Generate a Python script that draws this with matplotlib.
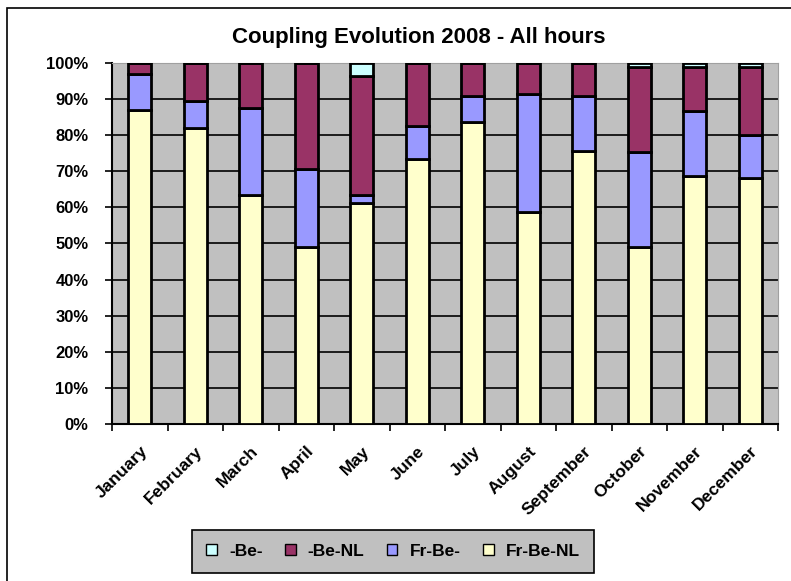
import numpy as np
import matplotlib.pyplot as plt
from matplotlib.patches import Rectangle

plt.rcParams['font.family'] = ['Liberation Sans', 'DejaVu Sans']

months = ["January", "February", "March", "April", "May", "June",
          "July", "August", "September", "October", "November", "December"]

# shares per month in %, stacked bottom to top
fr_be_nl = [87.0, 82.0, 63.5, 49.0, 61.2, 73.5, 83.6, 58.8, 75.6, 49.0, 68.8, 68.2]
fr_be = [10.0, 7.5, 24.0, 21.5, 2.3, 9.0, 7.3, 32.6, 15.3, 26.3, 17.9, 11.8]
be_nl = [3.0, 10.5, 12.5, 29.5, 33.0, 17.5, 9.1, 8.6, 9.1, 23.5, 12.1, 18.8]
be = [0.0, 0.0, 0.0, 0.0, 3.5, 0.0, 0.0, 0.0, 0.0, 1.2, 1.2, 1.2]

series = [("Fr-Be-NL", fr_be_nl, "#FFFFCC"),
          ("Fr-Be-", fr_be, "#9999FF"),
          ("-Be-NL", be_nl, "#993366"),
          ("-Be-", be, "#CCFFFF")]

fig = plt.figure(figsize=(7.91, 5.81), dpi=100)
ax = fig.add_axes([0.1416, 0.2702, 0.842, 0.6214])
ax.set_facecolor("#C0C0C0")

x = np.arange(len(months))
bottom = np.zeros(len(months))
handles = []
for name, vals, col in series:
    vals = np.array(vals)
    b = ax.bar(x, vals, 0.41, bottom=bottom, color=col, edgecolor="black",
               linewidth=2.0, label=name, zorder=3)
    bottom += vals
    handles.append(b)

ax.set_xlim(-0.5, len(months) - 0.5)
ax.set_ylim(0, 100)
ax.set_yticks(np.arange(0, 101, 10))
ax.set_yticklabels([f"{v}%" for v in range(0, 101, 10)], fontsize=12, fontweight="bold")
ax.yaxis.grid(True, color="black", linewidth=1.2, zorder=1)
ax.set_axisbelow(True)
ax.tick_params(axis="y", length=5, width=1.2, pad=12)

# month names at centres, tick marks between categories
ax.set_xticks(x)
ax.set_xticklabels(months, rotation=45, ha="right", rotation_mode="anchor",
                   fontsize=12.5, fontweight="bold")
ax.tick_params(axis="x", which="major", length=0, pad=14)
ax.set_xticks(np.arange(-0.5, len(months), 1), minor=True)
ax.tick_params(axis="x", which="minor", length=5, width=1.2)

for side in ["left", "bottom"]:
    ax.spines[side].set_linewidth(1.5)
for side in ["top", "right"]:
    ax.spines[side].set_color("#A0A0A0")

fig.text(0.53, 0.936, "Coupling Evolution 2008 - All hours", ha="center", va="center",
         fontsize=16, fontweight="bold")

leg = fig.legend(handles[::-1], [s[0] for s in series][::-1], loc="center",
                 bbox_to_anchor=(0.497, 0.0508), ncol=4, frameon=True, fancybox=False,
                 facecolor="#C0C0C0", edgecolor="black", handlelength=0.6, handleheight=0.6,
                 columnspacing=1.3, handletextpad=0.7, borderpad=0.8,
                 prop={"size": 12.5, "weight": "bold"})
leg.get_frame().set_linewidth(1.2)
leg.get_frame().set_alpha(1)
for h in leg.legend_handles:
    h.set_linewidth(1.0)

# outer chart frame
fig.patches.append(Rectangle((7 / 791, -0.05), 1.0, 1 - 8 / 581 + 0.05,
                             transform=fig.transFigure, fill=False,
                             edgecolor="black", linewidth=1.2))

fig.savefig("out.png", dpi=100)
